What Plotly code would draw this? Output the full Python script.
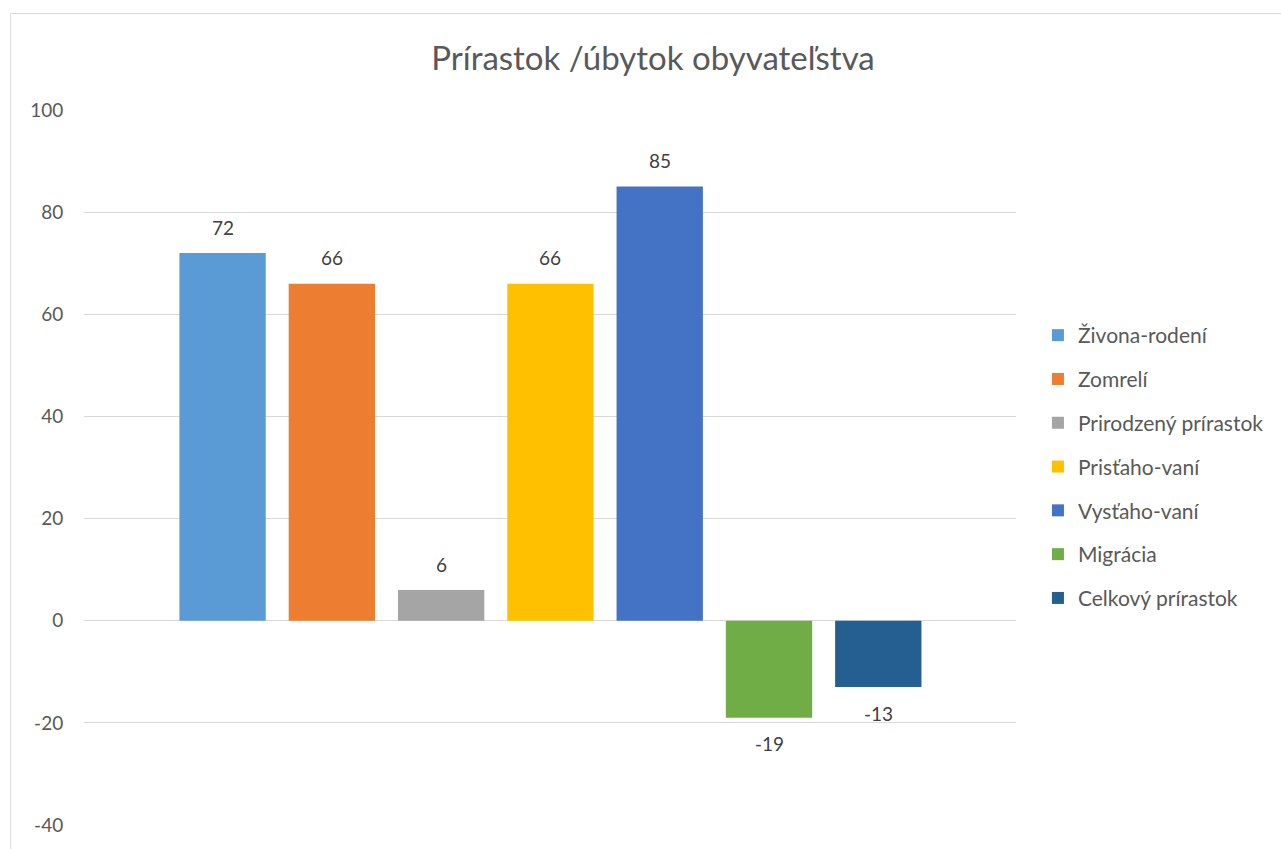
import plotly.graph_objects as go

categories = ["Živona-rodení", "Zomrelí", "Prirodzený prírastok", "Prisťaho-vaní",
              "Vysťaho-vaní", "Migrácia", "Celkový prírastok"]
values = [72, 66, 6, 66, 85, -19, -13]
colors = ["#5B9BD5", "#ED7D31", "#A5A5A5", "#FFC000", "#4472C4", "#70AD47", "#255E91"]
title_text = "Prírastok /úbytok obyvateľstva"
y_ticks = [-40, -20, 0, 20, 40, 60, 80, 100]
y_tick_labels = [str(v) for v in y_ticks]

FONT = "Lato"

fig = go.Figure()
for i, (cat, val, col) in enumerate(zip(categories, values, colors)):
    fig.add_trace(go.Bar(
        x=[cat], y=[val], name=cat, marker=dict(color=col, line=dict(width=0)),
        width=0.79, legendgroup=f"g{i}", showlegend=True,
    ))
    fig.add_annotation(
        x=cat, y=val, text=str(val), showarrow=False,
        yshift=26 if val >= 0 else -26, yanchor="middle",
        font=dict(family=FONT, size=19, color="#404040"),
    )

fig.update_layout(
    width=1281, height=849,
    margin=dict(l=84, r=263, t=110, b=24),
    paper_bgcolor="white", plot_bgcolor="white",
    barmode="overlay",
    title=dict(text=title_text, x=653 / 1281, xref="container", xanchor="center",
               y=1 - 58 / 849, yref="container", yanchor="middle",
               font=dict(family=FONT, size=33, color="#595959")),
    font=dict(family=FONT, color="#595959"),
    legend=dict(x=(1040 - 84) / 934, xanchor="left", y=1 - (315 - 110) / 715, yanchor="top",
                font=dict(family=FONT, size=21, color="#595959"),
                tracegroupgap=13.5, bgcolor="rgba(0,0,0,0)"),
    xaxis=dict(type="category", categoryorder="array", categoryarray=categories,
               range=[-1.268, 7.26], showticklabels=False, showgrid=False,
               zeroline=False, showline=False, ticks=""),
    yaxis=dict(range=[-40, 100], tickvals=y_ticks, ticktext=y_tick_labels,
               showgrid=True, gridcolor="#D9D9D9",
               gridwidth=1, zeroline=True, zerolinecolor="#D9D9D9", zerolinewidth=1,
               showline=False, ticks="outside", ticklen=16, tickcolor="rgba(0,0,0,0)",
               tickfont=dict(family=FONT, size=19, color="#595959")),
    shapes=[dict(type="rect", xref="paper", yref="paper",
                 x0=(10.5 - 84) / 934, x1=1.5, y0=-0.2, y1=1 + (110 - 13.5) / 715,
                 line=dict(color="#D9D9D9", width=1), fillcolor="rgba(0,0,0,0)",
                 layer="below")],
)

fig.write_html("out.html", config={"displayModeBar": False},
               post_script="document.body.style.margin='0';")
